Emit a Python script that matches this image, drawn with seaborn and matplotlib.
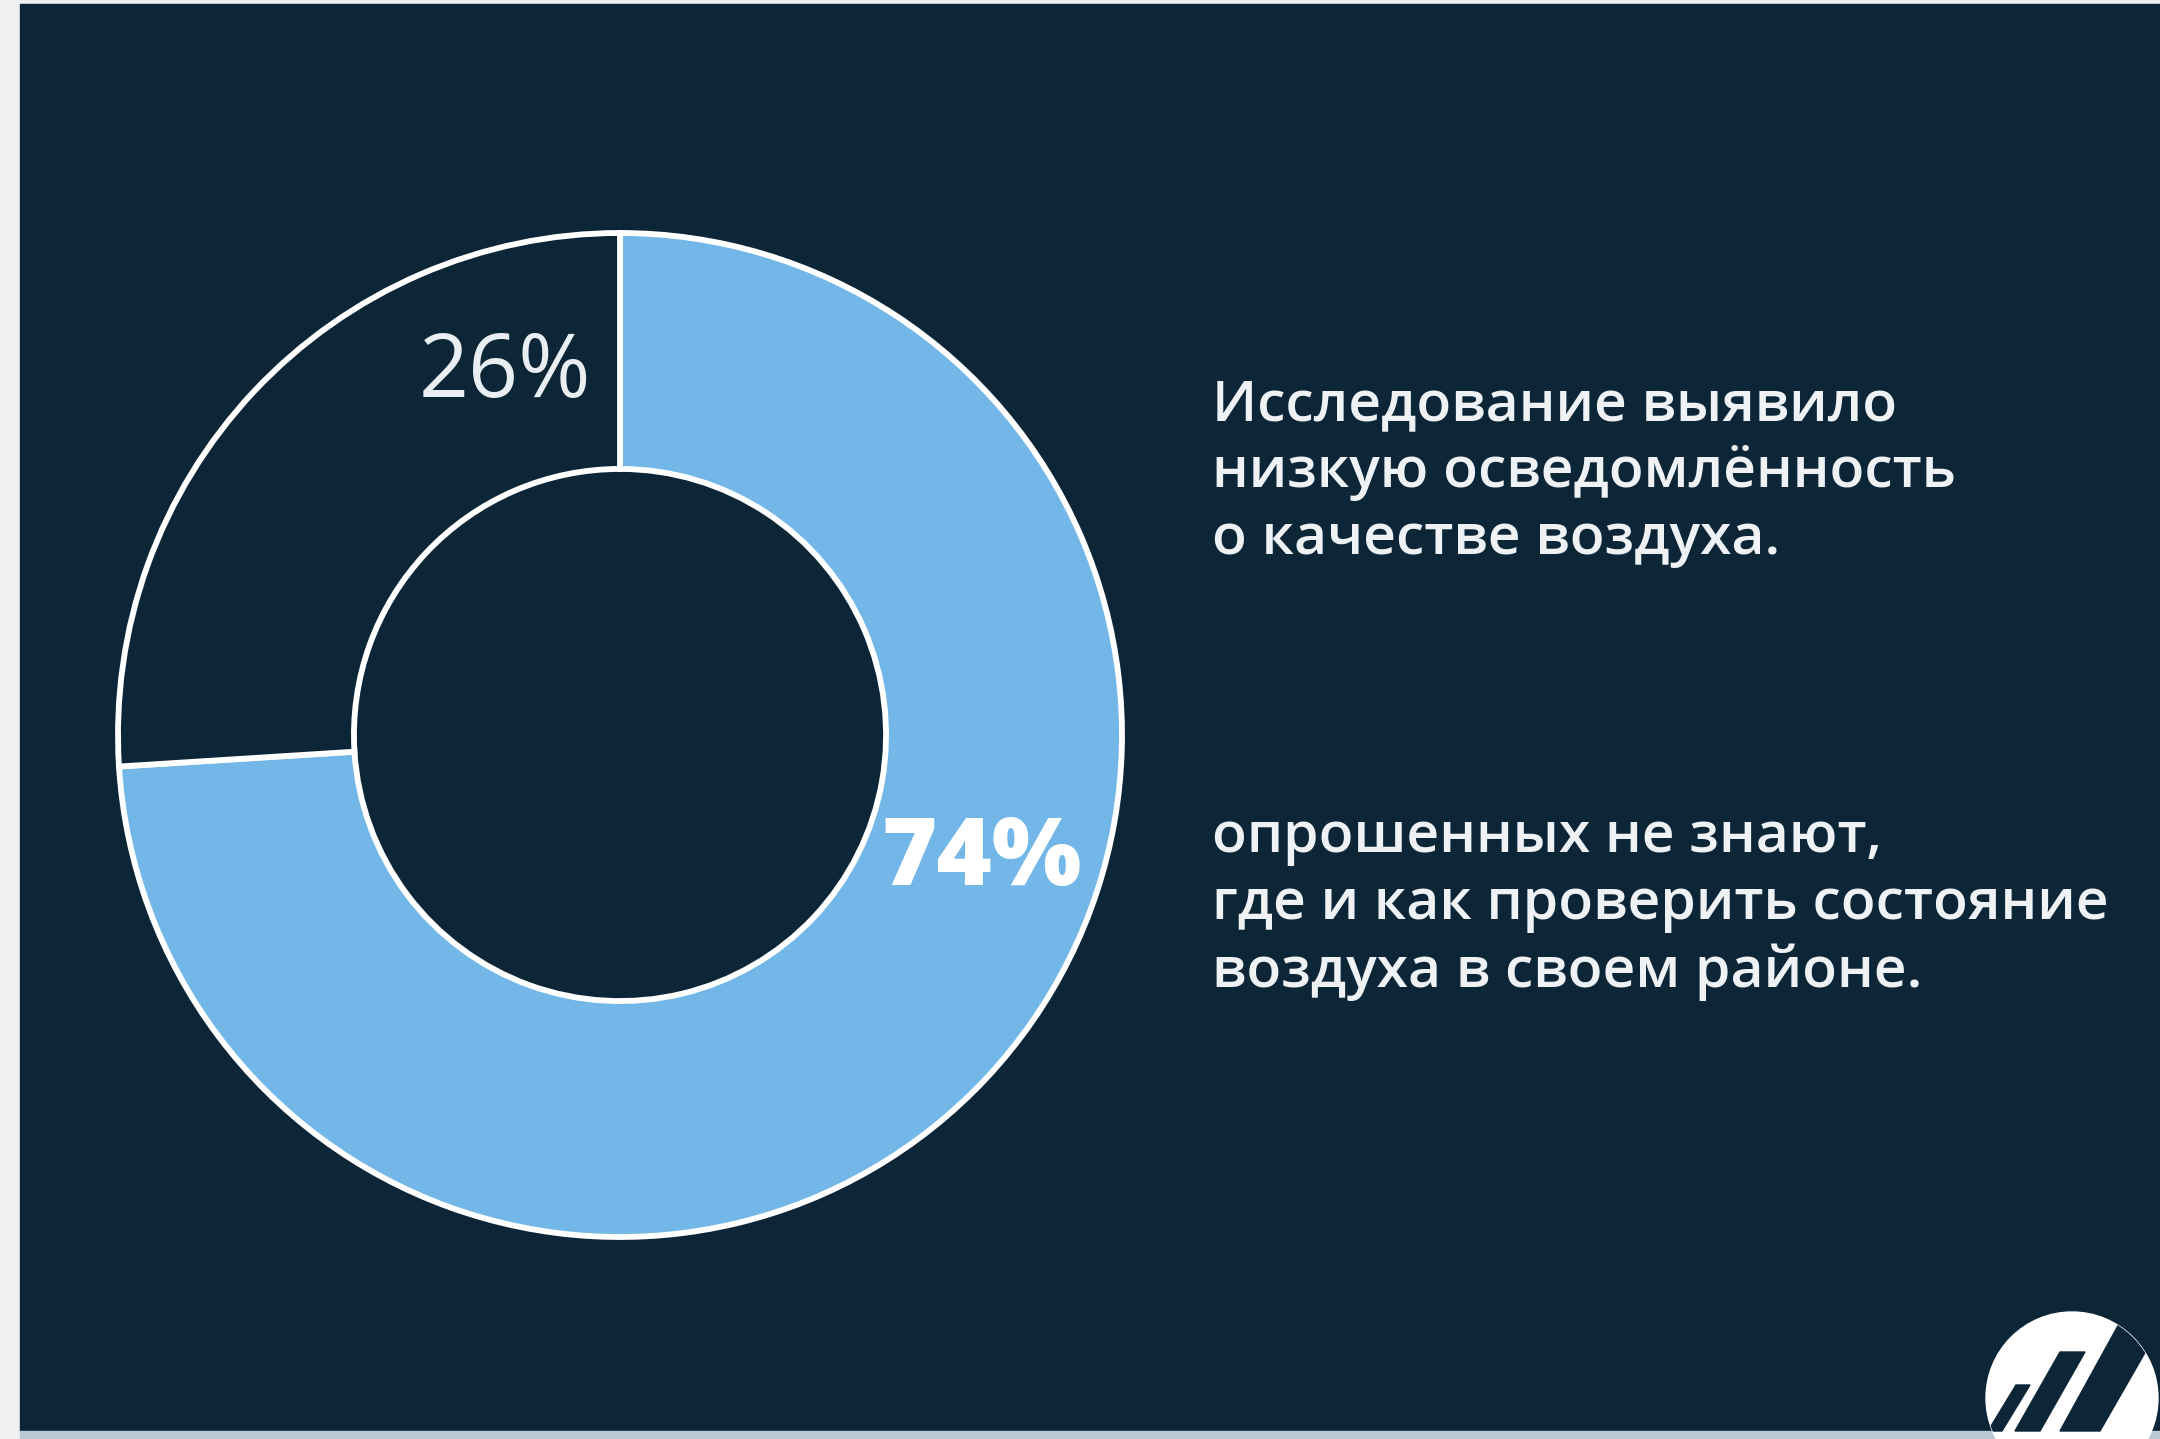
import seaborn as sns
import matplotlib.pyplot as plt
from matplotlib.patches import Rectangle, Circle, Polygon

sns.set_style("dark")
plt.rcParams["font.family"] = ["Open Sans", "DejaVu Sans"]

# data
labels = ["не знают", "знают"]
shares = [74, 26]
pct_labels = ["74%", "26%"]
text_top = ["Исследование выявило", "низкую осведомлённость", "о качестве воздуха."]
text_bottom = ["опрошенных не знают,", "где и как проверить состояние", "воздуха в своем районе."]

BG = "#0c2637"
BLUE = "#73b7e8"
W, H = 2160, 1439


def fx(px):
    return px / W


def fy(py):
    return 1 - py / H


fig = plt.figure(figsize=(21.6, 14.39), dpi=100, facecolor="#eef0f1")

# background panel
bg = fig.add_axes([0, 0, 1, 1])
bg.set_xlim(0, W)
bg.set_ylim(H, 0)
bg.axis("off")
bg.add_patch(Rectangle((20, 4), W - 20, 1427, color=BG, zorder=0))
bg.add_patch(Rectangle((20, 1431), W - 20, 8, color="#b9c9d5", zorder=0))

# logo
logo = Circle((2072, 1398), 86, color="white", zorder=1)
bg.add_patch(logo)
for pts in [
    [(1988, 1431), (2002, 1431), (2030, 1385), (2016, 1385)],
    [(2015, 1431), (2040, 1431), (2085, 1352), (2060, 1352)],
    [(2060, 1431), (2100, 1431), (2158, 1330), (2120, 1322)],
]:
    poly = Polygon(pts, closed=True, color=BG, zorder=2)
    bg.add_patch(poly)
    poly.set_clip_path(logo)

# donut
cx, cy, r = 620, 735, 502
ax = fig.add_axes([fx(cx - r), fy(cy + r), 2 * r / W, 2 * r / H])
ax.pie(
    shares,
    colors=[BLUE, BG],
    startangle=90,
    counterclock=False,
    wedgeprops=dict(width=0.47, edgecolor="white", linewidth=4.2),
)
ax.set_xlim(-1, 1)
ax.set_ylim(-1, 1)
ax.set_aspect("equal")
ax.axis("off")

ax.text(0.72, -0.25, pct_labels[0], color="white", fontsize=68,
        fontweight="heavy", ha="center", va="center")
ax.text(-0.23, 0.72, pct_labels[1], color="#e8eef2", fontsize=63,
        fontweight="normal", ha="center", va="center")

# right side text
for i, line in enumerate(text_top):
    fig.text(fx(1212), fy(406 + i * 67), line, color="#eef2f5", fontsize=41,
             fontweight="semibold", ha="left", va="center")
for i, line in enumerate(text_bottom):
    fig.text(fx(1212), fy(838 + i * 67), line, color="#eef2f5", fontsize=41,
             fontweight="semibold", ha="left", va="center")

fig.savefig("out.png", dpi=100, facecolor=fig.get_facecolor())
